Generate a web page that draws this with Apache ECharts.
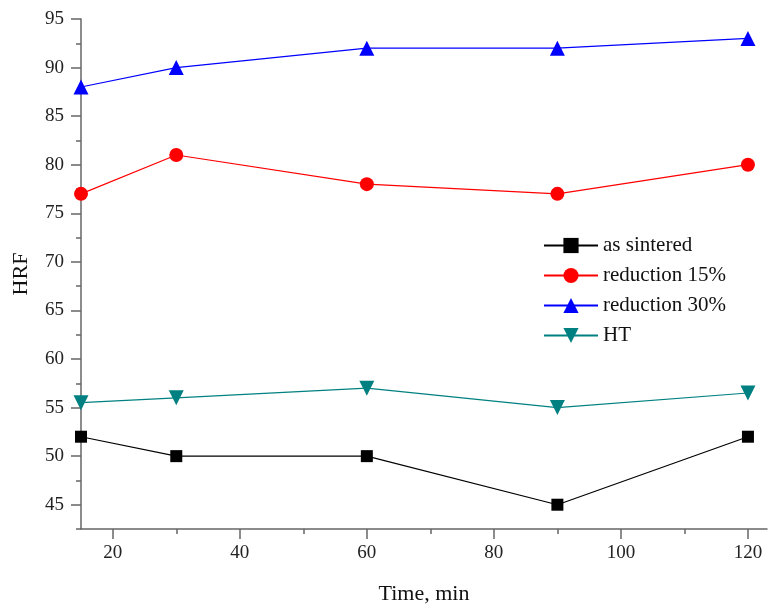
<!DOCTYPE html>
<html>
<head>
<meta charset="utf-8">
<script src="https://cdn.jsdelivr.net/npm/echarts@6/dist/echarts.min.js"></script>
<style>html,body{margin:0;padding:0;background:#fff}#c{width:770px;height:605px}</style>
</head>
<body>
<div id="c"></div>
<script>
const times = [15, 30, 60, 90, 120];
const asSintered = [52, 50, 50, 45, 52];
const reduction15 = [77, 81, 78, 77, 80];
const reduction30 = [88, 90, 92, 92, 93];
const ht = [55.5, 56, 57, 55, 56.5];
const xMajorTicks = [20, 40, 60, 80, 100, 120];
const xMinorTicks = [30, 50, 70, 90, 110];
const yMajorTicks = [45, 50, 55, 60, 65, 70, 75, 80, 85, 90, 95];
const yMinorTicks = [42.5, 47.5, 52.5, 57.5, 62.5, 67.5, 72.5, 77.5, 82.5, 87.5, 92.5];

const FONT = 'Liberation Serif';
const axisColor = '#666';
const pairs = vals => times.map((t, i) => [t, vals[i]]);

function mk(name, vals, color, symbol, size, rotate) {
  return {
    name, type: 'line', data: pairs(vals), symbol, symbolSize: size, symbolRotate: rotate || 0,
    lineStyle: { color, width: 1.2 }, itemStyle: { color }, xAxisIndex: 0, yAxisIndex: 0,
    animation: false, z: 3
  };
}

const chart = echarts.init(document.getElementById('c'));
chart.setOption({
  animation: false,
  grid: { left: 81, top: 19, right: 3, bottom: 76, containLabel: false, outerBoundsMode: 'none' },
  legend: {
    orient: 'vertical', left: 543, top: 235, padding: 0, itemWidth: 54, itemHeight: 19, itemGap: 9,
    textStyle: { fontFamily: FONT, fontSize: 21, color: '#111', padding: [0, 0, 0, 0] },
    data: ['as sintered', 'reduction 15%', 'reduction 30%', 'HT']
  },
  xAxis: [
    {
      type: 'value', min: 15, max: 123, position: 'bottom',
      name: 'Time, min', nameLocation: 'middle', nameGap: 54,
      nameTextStyle: { fontFamily: FONT, fontSize: 22, color: '#111' },
      axisLine: { show: true, lineStyle: { color: axisColor, width: 1.5 } },
      axisTick: { show: true, length: 10, customValues: xMajorTicks, lineStyle: { color: axisColor, width: 1.5 } },
      axisLabel: { customValues: xMajorTicks, fontFamily: FONT, fontSize: 19, color: '#222', margin: 15 },
      splitLine: { show: false }
    },
    {
      type: 'value', min: 15, max: 123, position: 'bottom', offset: 0,
      axisLine: { show: false },
      axisTick: { show: true, length: 5, customValues: xMinorTicks, lineStyle: { color: axisColor, width: 1.5 } },
      axisLabel: { show: false }, splitLine: { show: false }
    }
  ],
  yAxis: [
    {
      type: 'value', min: 42.5, max: 95, position: 'left',
      name: 'HRF', nameLocation: 'middle', nameGap: 49, nameRotate: 90,
      nameTextStyle: { fontFamily: FONT, fontSize: 22, color: '#111' },
      axisLine: { show: true, lineStyle: { color: axisColor, width: 1.5 } },
      axisTick: { show: true, length: 10, customValues: yMajorTicks, lineStyle: { color: axisColor, width: 1.5 } },
      axisLabel: { customValues: yMajorTicks, fontFamily: FONT, fontSize: 19, color: '#222', margin: 17 },
      splitLine: { show: false }
    },
    {
      type: 'value', min: 42.5, max: 95, position: 'left', offset: 0,
      axisLine: { show: false },
      axisTick: { show: true, length: 5, customValues: yMinorTicks, lineStyle: { color: axisColor, width: 1.5 } },
      axisLabel: { show: false }, splitLine: { show: false }
    }
  ],
  series: [
    mk('as sintered', asSintered, '#000000', 'rect', 12),
    mk('reduction 15%', reduction15, '#ff0000', 'circle', 14),
    mk('reduction 30%', reduction30, '#0000ff', 'triangle', 15),
    mk('HT', ht, '#008080', 'triangle', 15, 180)
  ]
});
</script>
</body>
</html>
